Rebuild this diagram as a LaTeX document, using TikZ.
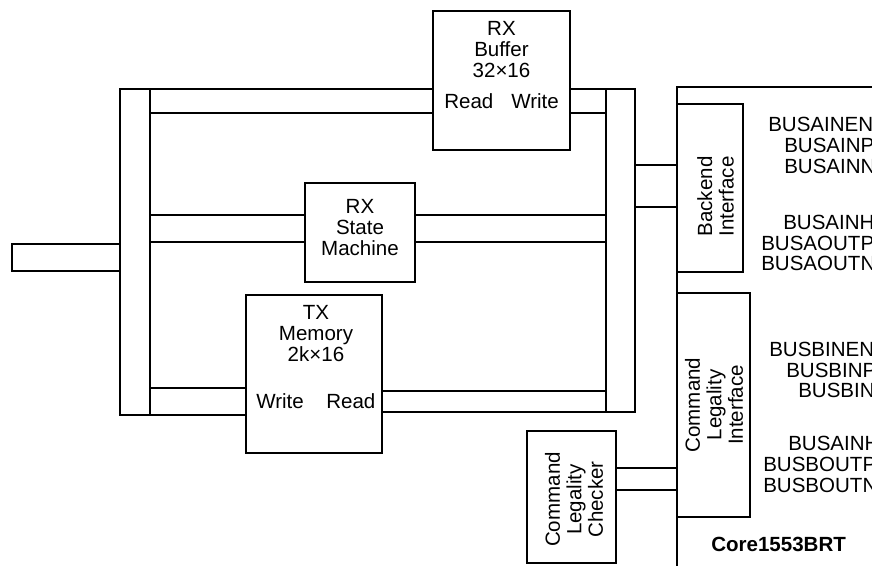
\documentclass[tikz,border=0pt]{standalone}
\usepackage{fontspec}
\setmainfont{Liberation Sans}
\usepackage{tikz}
\usetikzlibrary{positioning}

\begin{document}
\begin{tikzpicture}[x=0.75pt,y=-0.75pt,line width=1.9pt,
    blk/.style={draw, rectangle, inner sep=0pt},
    lbl/.style={inner sep=0pt, align=center, font=\fontsize{15.4}{15.75}\selectfont},
    vlbl/.style={lbl, rotate=90, font=\fontsize{15.4}{16.1}\selectfont},
    sig/.style={inner sep=0pt, anchor=base west, font=\fontsize{15.4}{15.75}\selectfont}]

        \useasboundingbox (0,0) rectangle (872,565);
        \clip (0,0) rectangle (872,565);

        % Blocks
        \node[blk, minimum width=102.75pt, minimum height=104.25pt] (rxbuf) at (501.5,80.5) {};
        \node[blk, minimum width=82.5pt, minimum height=74.25pt] (rxsm) at (360,232.5) {};
        \node[blk, minimum width=102pt, minimum height=118.5pt] (txmem) at (314,374) {};
        \node[blk, minimum width=49.5pt, minimum height=126pt] (backend) at (710,188) {};
        \node[blk, minimum width=54.75pt, minimum height=168pt] (cli) at (713.5,405) {};
        \node[blk, minimum width=66.75pt, minimum height=99pt] (clc) at (571.5,497) {};

        % Busse links und rechts
        \node[blk, minimum width=22.5pt, minimum height=244.5pt] (lbus) at (135,252) {};
        \node[blk, minimum width=21.75pt, minimum height=242.25pt] (rbus) at (620.5,250.5) {};

        % Anschluss links
        \coordinate (stubt) at (12,244);
        \coordinate (stubb) at (12,271);
        \draw (lbus.west |- stubt) -- (stubt) -- (stubb) -- (lbus.west |- stubb);

        % Kanalhoehen
        \coordinate (ta) at (0,89);  \coordinate (tb) at (0,113);
        \coordinate (ma) at (0,215); \coordinate (mb) at (0,242);
        \coordinate (wa) at (0,388); \coordinate (wb) at (0,415);
        \coordinate (ra) at (0,391); \coordinate (rb) at (0,412);
        \coordinate (ba) at (0,165); \coordinate (bb) at (0,207);
        \coordinate (ca) at (0,468); \coordinate (cb) at (0,490);

        \foreach \lv in {ta,tb} {
            \draw (lbus.east |- \lv) -- (rxbuf.west |- \lv);
            \draw (rxbuf.east |- \lv) -- (rbus.west |- \lv);
        }
        \foreach \lv in {ma,mb} {
            \draw (lbus.east |- \lv) -- (rxsm.west |- \lv);
            \draw (rxsm.east |- \lv) -- (rbus.west |- \lv);
        }
        \foreach \lv in {wa,wb} \draw (lbus.east |- \lv) -- (txmem.west |- \lv);
        \foreach \lv in {ra,rb} \draw (txmem.east |- \lv) -- (rbus.west |- \lv);
        \foreach \lv in {ba,bb} \draw (rbus.east |- \lv) -- (backend.west |- \lv);
        \foreach \lv in {ca,cb} \draw (clc.east |- \lv) -- (cli.west |- \lv);

        % Core-Rahmen
        \coordinate (corebot) at (677,570);
        \coordinate (coretr) at (880,87);
        \draw (corebot) |- (coretr);

        % Beschriftungen
        \node[lbl, anchor=north] (rxbuftxt) at (501.5,20) {RX\\Buffer\\32×16};
        \node[lbl, anchor=base west] (rxbufrd) at (443,108) {Read};
        \node[lbl, anchor=base west] (rxbufwr) at (510,108) {Write};
        \node[lbl, anchor=north] (rxsmtxt) at (360,198) {RX\\State\\Machine};
        \node[lbl, anchor=north] (txmemtxt) at (316,304) {TX\\Memory\\2k×16};
        \node[lbl, anchor=base west] (txmemwr) at (255,408) {Write};
        \node[lbl, anchor=base west] (txmemrd) at (325,408) {Read};

        \node[vlbl] (backendtxt) at (715.5,196.5) {Backend\\Interface};
        \node[vlbl] (clitxt) at (714,405) {Command\\Legality\\Interface};
        \node[vlbl] (clctxt) at (574,499.5) {Command\\Legality\\Checker};

        % Signale
        \foreach \nm/\xx/\yy [count=\i] in {BUSAINEN/767/131, BUSAINP/783/152, BUSAINN/783/173,
                BUSAINH/782/229, BUSAOUTP/760/250, BUSAOUTN/760/270,
                BUSBINEN/768/356, BUSBINP/785/377, BUSBINN/797/397,
                BUSAINH/787/450, BUSBOUTP/762/471, BUSBOUTN/762/492}
            \node[sig] (sig\i) at (\xx,\yy) {\nm};

        \node[sig, font=\fontsize{15.4}{15.75}\selectfont\bfseries] (core) at (710,551) {Core1553BRT};
    \end{tikzpicture}
\end{document}
